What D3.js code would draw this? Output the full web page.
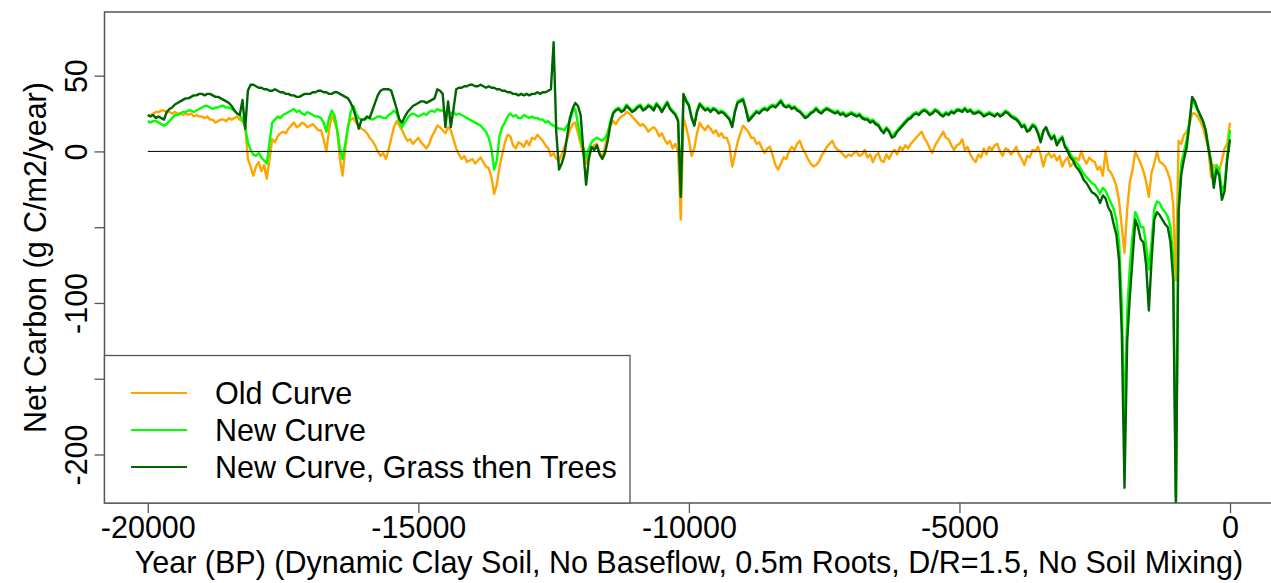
<!DOCTYPE html>
<html>
<head>
<meta charset="utf-8">
<script src="https://cdn.jsdelivr.net/npm/d3@7"></script>
<style>
  html, body { margin: 0; padding: 0; background: #fff; }
  svg { display: block; font-family: "Liberation Sans", Arial, sans-serif; }
</style>
</head>
<body>
<svg id="chart" width="1271" height="583"></svg>
<script>
// Simulation output every 50 years, -20000 BP to present
const years = d3.range(-20000, 1, 50);

// Net carbon, g C/m2/year; one row per millennium (20 values), final value at year 0
const oldCurve = [
  23, 24, 25, 26, 26, 27, 27, 26, 26, 25, 26, 25, 25, 24, 25, 24, 25, 23, 24, 23,
  23, 22, 23, 21, 21, 19, 20, 21, 21, 20, 22, 21, 22, 23, 21, 20, 17, -5, -10, -16,
  -10, -7, -13, -9, -18, -5, 8, 6, 10, 12, 13, 12, 15, 17, 19, 16, 17, 19, 18, 16,
  17, 18, 16, 14, 14, 8, 0, 14, 24, 20, 14, -5, -16, 2, 17, 21, 22, 19, 17, 15,
  14, 12, 9, 7, 4, 0, -3, -1, -5, 1, 9, 16, 20, 17, 14, 10, 7, 8, 5, 7,
  9, 6, 4, 2, 5, 10, 13, 17, 16, 14, 12, 16, 14, 8, 2, -2, -5, -3, -7, -6,
  -5, -8, -6, -4, -7, -10, -11, -17, -28, -22, -10, -2, 6, 11, 10, 4, 2, 6, 5, 3,
  7, 4, 9, 8, 11, 9, 7, 4, 2, -3, -1, -5, -6, -2, 3, 8, 14, 18, 19, 12,
  5, -2, -8, -3, 2, 4, 5, -1, -4, 3, 13, 17, 20, 18, 21, 23, 24, 26, 25, 23,
  21, 19, 17, 18, 16, 13, 15, 16, 14, 10, 12, 8, 5, 7, 2, 5, 0, -45, 22, 16,
  8, -3, 2, 12, 19, 16, 14, 17, 15, 12, 14, 10, 12, 9, 9, 4, -10, -2, 6, 12,
  17, 15, 13, 9, 9, 5, 6, 2, -1, 2, 3, -3, -9, -12, -8, -4, -5, 0, 3, 1,
  5, 7, 2, -1, -5, -8, -10, -9, -7, -3, 0, 3, 5, 7, 3, 1, 0, -2, -4, -2,
  -3, -1, 0, -3, -2, 1, -4, -2, -7, -3, -1, -6, -7, -2, -5, -1, 1, -2, 3, 1,
  4, 2, 5, 7, 9, 11, 13, 9, 6, 2, -1, 4, 7, 10, 13, 9, 8, 4, 1, 4,
  5, 8, 1, 3, -2, -5, -7, -2, -4, 2, -2, 3, 1, 4, 5, 0, -3, 2, 1, -2,
  0, 3, -2, -5, -9, -3, -4, 1, 0, 3, -2, -10, -3, -1, -4, -2, -6, -3, -10, -6,
  -4, -10, -8, -4, -6, 0, -5, -8, -4, -6, -7, -12, -10, -16, 0, -12, -14, -18, -23, -33,
  -50, -67, -38, -20, -12, 0, -4, -8, -13, -20, -30, -14, -8, 0, -7, -8, -10, -14, -20, -35,
  -85, 7, 5, 11, 13, 18, 25, 25, 23, 20, 16, 9, 2, -17, -9, -12, -12, -6, 2, 5,
  19
];

const newCurve = [
  20, 19, 20, 20, 19, 18, 17, 18, 20, 22, 24, 24, 25, 26, 26, 27, 27, 26, 27, 28,
  29, 30, 30, 29, 28, 29, 29, 30, 30, 29, 29, 28, 27, 25, 24, 21, 16, 6, 1, -2,
  -3, -1, -4, -6, -8, 6, 19, 21, 23, 22, 24, 25, 26, 27, 28, 26, 27, 25, 24, 26,
  25, 24, 23, 23, 22, 19, 13, 22, 27, 24, 14, 2, -5, 5, 16, 26, 30, 25, 22, 21,
  21, 22, 22, 21, 22, 23, 23, 22, 22, 24, 25, 27, 25, 20, 16, 19, 22, 24, 25, 24,
  23, 24, 25, 24, 26, 27, 26, 28, 27, 27, 26, 27, 25, 26, 24, 25, 24, 23, 22, 21,
  20, 19, 18, 17, 15, 13, 9, 2, -12, -6, 10, 16, 19, 23, 25, 23, 24, 22, 22, 24,
  23, 22, 23, 22, 22, 21, 21, 19, 20, 18, 17, 16, 15, 15, 14, 17, 20, 26, 28, 18,
  8, 2, -4, 2, 6, 8, 9, 8, 7, 9, 12, 20, 26, 28, 29, 27, 28, 31, 29, 27,
  28, 30, 31, 28, 29, 31, 30, 28, 32, 30, 27, 30, 33, 29, 27, 25, 21, -28, 37, 34,
  31, 23, 18, 27, 32, 30, 28, 29, 27, 29, 28, 26, 27, 26, 24, 22, 17, 27, 33, 34,
  35, 29, 22, 23, 25, 27, 26, 28, 29, 28, 30, 31, 30, 32, 34, 31, 30, 31, 29, 30,
  28, 27, 25, 23, 24, 26, 27, 29, 27, 26, 28, 29, 28, 27, 26, 27, 25, 26, 24, 25,
  26, 25, 24, 25, 23, 22, 22, 20, 21, 19, 18, 15, 13, 16, 14, 10, 12, 14, 16, 18,
  20, 22, 23, 25, 26, 25, 27, 28, 27, 25, 26, 28, 27, 25, 24, 26, 25, 27, 26, 28,
  28, 27, 29, 27, 28, 26, 26, 27, 26, 24, 25, 26, 25, 24, 25, 24, 25, 27, 26, 24,
  23, 22, 20, 17, 18, 14, 15, 18, 17, 13, 8, 14, 16, 12, 9, 11, 6, 8, 10, 4,
  2, -2, -4, -7, -9, -12, -15, -17, -19, -21, -22, -25, -28, -24, -26, -30, -34, -38, -45, -60,
  -100, -183, -105, -75, -55, -40, -44, -50, -50, -62, -78, -60, -38, -33, -34, -38, -40, -43, -50, -70,
  -228, -35, -8, 0, 8, 20, 34, 31, 27, 23, 20, 14, 4, -6, -20, -9, -12, -26, -22, -2,
  14
];

const grassThenTrees = [
  24, 23, 24, 22, 23, 22, 21, 26, 28, 29, 31, 32, 33, 34, 35, 35, 36, 37, 37, 38,
  38, 37, 38, 38, 37, 36, 36, 35, 34, 33, 32, 30, 27, 25, 24, 34, 15, 40, 44, 44,
  43, 42, 42, 41, 41, 40, 40, 41, 40, 39, 39, 38, 38, 37, 37, 36, 36, 37, 38, 38,
  38, 39, 39, 40, 40, 39, 39, 38, 38, 39, 39, 38, 37, 36, 35, 32, 28, 22, 15, 21,
  21, 23, 22, 27, 32, 37, 40, 41, 41, 41, 40, 34, 28, 21, 19, 23, 26, 28, 30, 31,
  32, 33, 33, 32, 33, 34, 35, 41, 40, 38, 16, 33, 16, 28, 41, 42, 42, 43, 43, 44,
  44, 43, 43, 44, 43, 42, 43, 42, 42, 41, 41, 40, 40, 39, 39, 38, 38, 37, 38, 37,
  38, 37, 38, 38, 39, 38, 39, 39, 40, 41, 72, 12, -12, -8, -2, 10, 22, 28, 32, 30,
  24, 0, -22, -5, 3, 1, 4, -2, -5, -1, 7, 18, 25, 27, 28, 26, 27, 30, 28, 26,
  27, 29, 30, 27, 28, 30, 29, 27, 31, 29, 26, 29, 32, 28, 26, 24, 20, -30, 38, 33,
  30, 22, 17, 26, 31, 29, 27, 28, 26, 28, 27, 25, 26, 25, 23, 21, 16, 26, 32, 33,
  34, 28, 20, 22, 24, 26, 25, 27, 28, 27, 29, 30, 29, 31, 33, 30, 29, 30, 28, 29,
  27, 26, 24, 22, 23, 25, 26, 28, 26, 25, 27, 28, 27, 26, 25, 26, 24, 25, 23, 24,
  25, 24, 23, 24, 22, 21, 21, 19, 20, 18, 17, 14, 12, 15, 13, 9, 10, 13, 15, 17,
  19, 21, 22, 24, 25, 24, 26, 27, 26, 24, 25, 27, 26, 24, 23, 25, 24, 26, 25, 27,
  27, 26, 28, 26, 27, 25, 25, 26, 25, 23, 24, 25, 24, 23, 25, 23, 24, 26, 25, 23,
  22, 21, 19, 16, 17, 13, 14, 17, 16, 12, 6, 13, 16, 11, 8, 10, 4, 7, 9, 3,
  0, -4, -6, -10, -12, -15, -19, -21, -24, -27, -28, -30, -34, -29, -31, -37, -40, -48, -55, -72,
  -120, -222, -125, -95, -70, -45, -50, -58, -60, -75, -105, -72, -45, -40, -42, -45, -48, -50, -60, -85,
  -238, -40, -15, -5, 3, 18, 36, 33, 28, 24, 20, 14, 2, -8, -24, -12, -16, -32, -26, -5,
  8
];

const xTicks = [-20000, -15000, -10000, -5000, 0];
const yTicks = [-200, -150, -100, -50, 0, 50];
const yTickLabels = [-200, -100, 0, 50];
const legendLabels = ["Old Curve", "New Curve", "New Curve, Grass then Trees"];
const seriesColors = ["#FFA500", "#00FF00", "#006400"];
const xTitle = "Year (BP) (Dynamic Clay Soil, No Baseflow, 0.5m Roots, D/R=1.5, No Soil Mixing)";
const yTitle = "Net Carbon (g C/m2/year)";

const svg = d3.select("#chart");
const plot = { left: 104.5, right: 1273.3, top: 12, bottom: 503 };
const FONT = 30.5;

const x = d3.scaleLinear().domain([-20800, 800]).range([plot.left, plot.right]);
const y = d3.scaleLinear().domain([-232, 92]).range([plot.bottom, plot.top]);

svg.append("defs").append("clipPath").attr("id", "plot-clip")
  .append("rect")
  .attr("x", plot.left).attr("y", plot.top)
  .attr("width", plot.right - plot.left).attr("height", plot.bottom - plot.top);

const series = [oldCurve, newCurve, grassThenTrees];
const line = d3.line().x(d => x(d[0])).y(d => y(d[1]));

const lines = svg.append("g").attr("clip-path", "url(#plot-clip)");
series.forEach((vals, i) => {
  lines.append("path")
    .datum(years.map((yr, k) => [yr, vals[k]]).filter(d => d[1] !== undefined))
    .attr("d", line)
    .attr("fill", "none")
    .attr("stroke", seriesColors[i])
    .attr("stroke-width", 2.4)
    .attr("stroke-linejoin", "round");
});

// zero reference line
lines.append("path")
  .datum([[-20000, 0], [0, 0]])
  .attr("d", line)
  .attr("stroke", "#000")
  .attr("stroke-width", 1);

// x axis
const xAxis = svg.append("g")
  .attr("transform", `translate(0,${plot.bottom})`)
  .call(d3.axisBottom(x).tickValues(xTicks).tickSize(10).tickPadding(3).tickFormat(d => String(d)));
xAxis.select(".domain").remove();
xAxis.selectAll("line").attr("stroke", "#555").attr("stroke-width", 1.3);
xAxis.selectAll("text").attr("font-size", FONT).attr("fill", "#000")
  .attr("font-family", "Liberation Sans, Arial, sans-serif");

// y axis with rotated labels
const yAxis = svg.append("g")
  .attr("transform", `translate(${plot.left},0)`)
  .call(d3.axisLeft(y).tickValues(yTicks).tickSize(10)
    .tickFormat(d => yTickLabels.includes(d) ? String(d) : ""));
yAxis.select(".domain").remove();
yAxis.selectAll("line").attr("stroke", "#555").attr("stroke-width", 1.3);
yAxis.selectAll("text")
  .attr("font-size", FONT).attr("fill", "#000")
  .attr("font-family", "Liberation Sans, Arial, sans-serif")
  .attr("transform", "rotate(-90)")
  .attr("x", 0).attr("y", -18).attr("dy", 0)
  .attr("text-anchor", "middle");

// plot frame
svg.append("rect")
  .attr("x", plot.left).attr("y", plot.top)
  .attr("width", plot.right - plot.left).attr("height", plot.bottom - plot.top)
  .attr("fill", "none").attr("stroke", "#555").attr("stroke-width", 1.5);

// axis titles
svg.append("text")
  .attr("x", (plot.left + plot.right) / 2).attr("y", 573)
  .attr("text-anchor", "middle").attr("font-size", FONT).attr("fill", "#000")
  .text(xTitle);
svg.append("text")
  .attr("transform", `translate(46,${(plot.top + plot.bottom) / 2}) rotate(-90)`)
  .attr("text-anchor", "middle").attr("font-size", FONT).attr("fill", "#000")
  .text(yTitle);

// legend
const legend = svg.append("g");
legend.append("rect")
  .attr("x", plot.left).attr("y", 355.5)
  .attr("width", 630 - plot.left).attr("height", plot.bottom - 355.5)
  .attr("fill", "#fff").attr("stroke", "#555").attr("stroke-width", 1.3);
const rowY = [393, 430, 467];
legendLabels.forEach((lab, i) => {
  legend.append("line")
    .attr("x1", 131).attr("x2", 187).attr("y1", rowY[i]).attr("y2", rowY[i])
    .attr("stroke", seriesColors[i]).attr("stroke-width", 2);
  legend.append("text")
    .attr("x", 215).attr("y", rowY[i]).attr("dy", "0.35em")
    .attr("font-size", FONT).attr("fill", "#000")
    .text(lab);
});
</script>
</body>
</html>
